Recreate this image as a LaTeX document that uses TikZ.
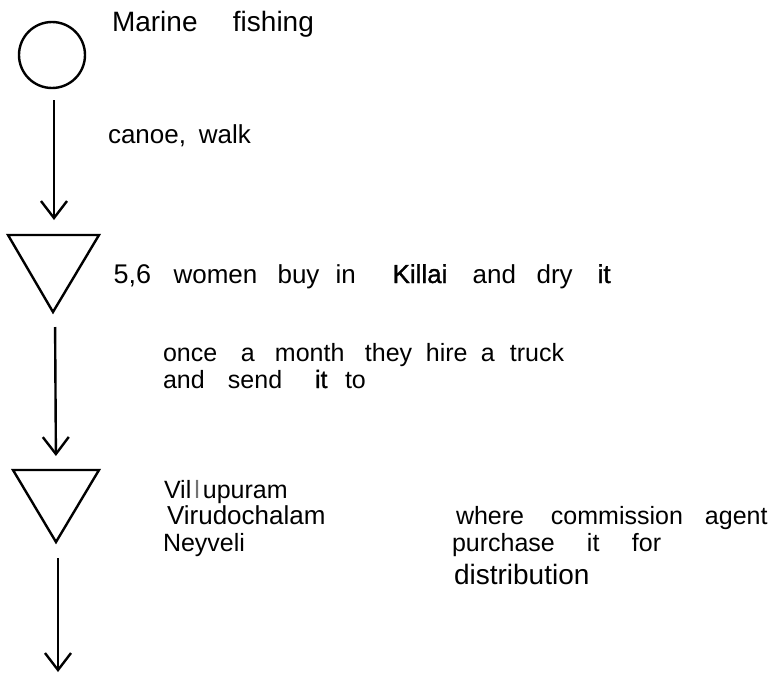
\documentclass[tikz,border=0pt]{standalone}
\usepackage{fontspec}
\setmainfont{Liberation Sans}
\newfontfamily\heavier[FakeBold=1.2]{Liberation Sans}
\usetikzlibrary{arrows.meta}

\newcommand{\fs}[1]{\fontsize{#1}{#1}\selectfont}

\begin{document}
\begin{tikzpicture}[x=1pt,y=-1pt,
  every node/.style={inner sep=0pt, outer sep=0pt},
  label/.style={anchor=base west, font=\fs{25}},
  shapeline/.style={line width=2.4pt, line join=miter},
  flow/.style={line width=2.4pt, -{Straight Barb[length=17pt,width=26pt,line width=2.4pt]}},
]
\useasboundingbox (0,0) rectangle (784,677);

% start: marine catch
\node[circle, draw, shapeline, minimum size=66pt] (src) at (52,55) {};

% first storage point
\draw[shapeline] (8,235) -- (99,235) -- (53,312) -- cycle;
\coordinate (t1n) at (54,235);
\coordinate (t1s) at (55,312);

% second storage point
\draw[shapeline] (13,470) -- (99,470) -- (56,542) -- cycle;
\coordinate (t2n) at (56,470);
\coordinate (t2s) at (58,542);
\coordinate (out) at (58,672);

% flows
\coordinate (srcs) at (src.south -| t1n);
\draw[flow, shorten <=12pt, shorten >=15pt] (srcs) -- (t1n);
\draw[flow, shorten <=15pt, shorten >=14pt] (t1s) -- (t2n);
\draw[flow, shorten <=16pt] (t2s) -- (out);

% texts
\node[label, font=\fs{28}] (l1) at (112,32) {\makebox[121pt][l]{Marine}fishing};
\node[label, font=\fs{26}] (l2) at (108,143) {\makebox[91pt][l]{canoe,}walk};
\node[label, font=\fs{26}] (l3) at (113.6,283) {\makebox[60pt][l]{\fs{27}5,6}\makebox[104pt][l]{women}\makebox[58pt][l]{buy}\makebox[57pt][l]{in}\makebox[80pt][l]{\heavier Killai}\makebox[64pt][l]{and}\makebox[61pt][l]{dry}{\heavier it}};
\node[label] (l4) at (163,361) {\makebox[78pt][l]{once}\makebox[34pt][l]{a}\makebox[90pt][l]{month}\makebox[61pt][l]{they}\makebox[55pt][l]{hire}\makebox[29pt][l]{a}truck};
\node[label] (l5) at (163,388) {\makebox[65pt][l]{and}\makebox[87pt][l]{send}\makebox[30pt][l]{\heavier it}to};
\node[label] (p1) at (164,498) {Vil\hspace{3pt}\textcolor{black!55}{l}\hspace{3pt}upuram};
\node[label, font=\fs{26}] (p2) at (167,524) {Virudochalam};
\node[label] (p3) at (163,551) {Neyveli};
\node[label] (a1) at (456,524) {\makebox[95pt][l]{where}\makebox[154pt][l]{commission}agent};
\node[label] (a2) at (452,551) {\makebox[135pt][l]{purchase}\makebox[45pt][l]{it}for};
\node[label, font=\fs{28}] (a3) at (454,584) {distribution};
\end{tikzpicture}
\end{document}
